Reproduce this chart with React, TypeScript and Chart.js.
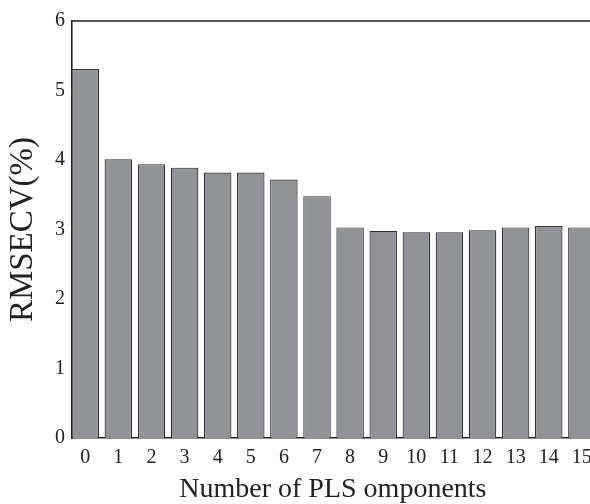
import React, { useEffect, useRef } from "react";
import { Chart, registerables } from "chart.js";

Chart.register(...registerables);

const components = [0, 1, 2, 3, 4, 5, 6, 7, 8, 9, 10, 11, 12, 13, 14, 15];
const rmsecv = [5.31, 4.01, 3.94, 3.89, 3.82, 3.82, 3.72, 3.48, 3.03, 2.98, 2.96, 2.96, 2.99, 3.03, 3.05, 3.03];
const yTickValues = [0, 1, 2, 3, 4, 5, 6];

const FONT = "'Liberation Serif', 'Times New Roman', serif";

export default function App() {
  const ref = useRef<HTMLCanvasElement | null>(null);

  useEffect(() => {
    if (!ref.current) return;
    const topLine = {
      id: "topLine",
      afterDraw(chart: any) {
        const { ctx, chartArea } = chart;
        ctx.save();
        ctx.strokeStyle = "#222";
        ctx.lineWidth = 1.6;
        ctx.beginPath();
        ctx.moveTo(chartArea.left, chartArea.top);
        ctx.lineTo(chartArea.right + 10, chartArea.top);
        ctx.stroke();
        ctx.restore();
      },
    };
    const chart = new Chart(ref.current, {
      type: "bar",
      data: {
        datasets: [
          {
            data: components.map((c, i) => ({ x: c, y: rmsecv[i] })) as any,
            backgroundColor: "#929397",
            borderColor: "#2e2e2e",
            borderWidth: 1.2,
            categoryPercentage: 1,
            barPercentage: 0.83,
          },
        ],
      },
      options: {
        animation: false,
        responsive: false,
        layout: { padding: { top: 21, right: 6, left: 0, bottom: 0 } },
        plugins: { legend: { display: false }, tooltip: { enabled: false } },
        scales: {
          x: {
            type: "linear",
            min: -0.4,
            max: 15.36,
            offset: false,
            afterBuildTicks: (scale: any) => {
              scale.ticks = components.map((v) => ({ value: v }));
            },
            afterFit: (scale: any) => {
              scale.height = 66;
            },
            grid: { display: false, drawTicks: false },
            border: { display: true, color: "#222", width: 1.6 },
            ticks: {
              color: "#222",
              font: { family: FONT, size: 20 },
              padding: 8,
              maxRotation: 0,
              autoSkip: false,
              callback: (v: any) => String(v),
            },
            title: {
              display: true,
              text: "Number of PLS omponents",
              color: "#222",
              font: { family: FONT, size: 28, lineHeight: 1 },
              padding: { top: 0, bottom: 0 },
            },
          },
          y: {
            min: 0,
            max: 6,
            afterBuildTicks: (scale: any) => {
              scale.ticks = yTickValues.map((v) => ({ value: v }));
            },
            afterFit: (scale: any) => {
              scale.width = 72;
            },
            grid: { display: false, drawTicks: false },
            border: { display: true, color: "#222", width: 1.6 },
            ticks: {
              color: "#222",
              font: { family: FONT, size: 20 },
              padding: 7,
            },
            title: {
              display: true,
              text: "RMSECV(%)",
              color: "#222",
              font: { family: FONT, size: 33, lineHeight: 1 },
              padding: { top: 7, bottom: 0 },
            },
          },
        },
      },
      plugins: [topLine],
    });
    return () => chart.destroy();
  }, []);

  return (
    <div
      style={{
        position: "fixed",
        left: 0,
        top: 0,
        width: 590,
        height: 504,
        overflow: "hidden",
        background: "#fff",
      }}
    >
      <canvas ref={ref} width={600} height={504} style={{ display: "block" }} />
    </div>
  );
}
